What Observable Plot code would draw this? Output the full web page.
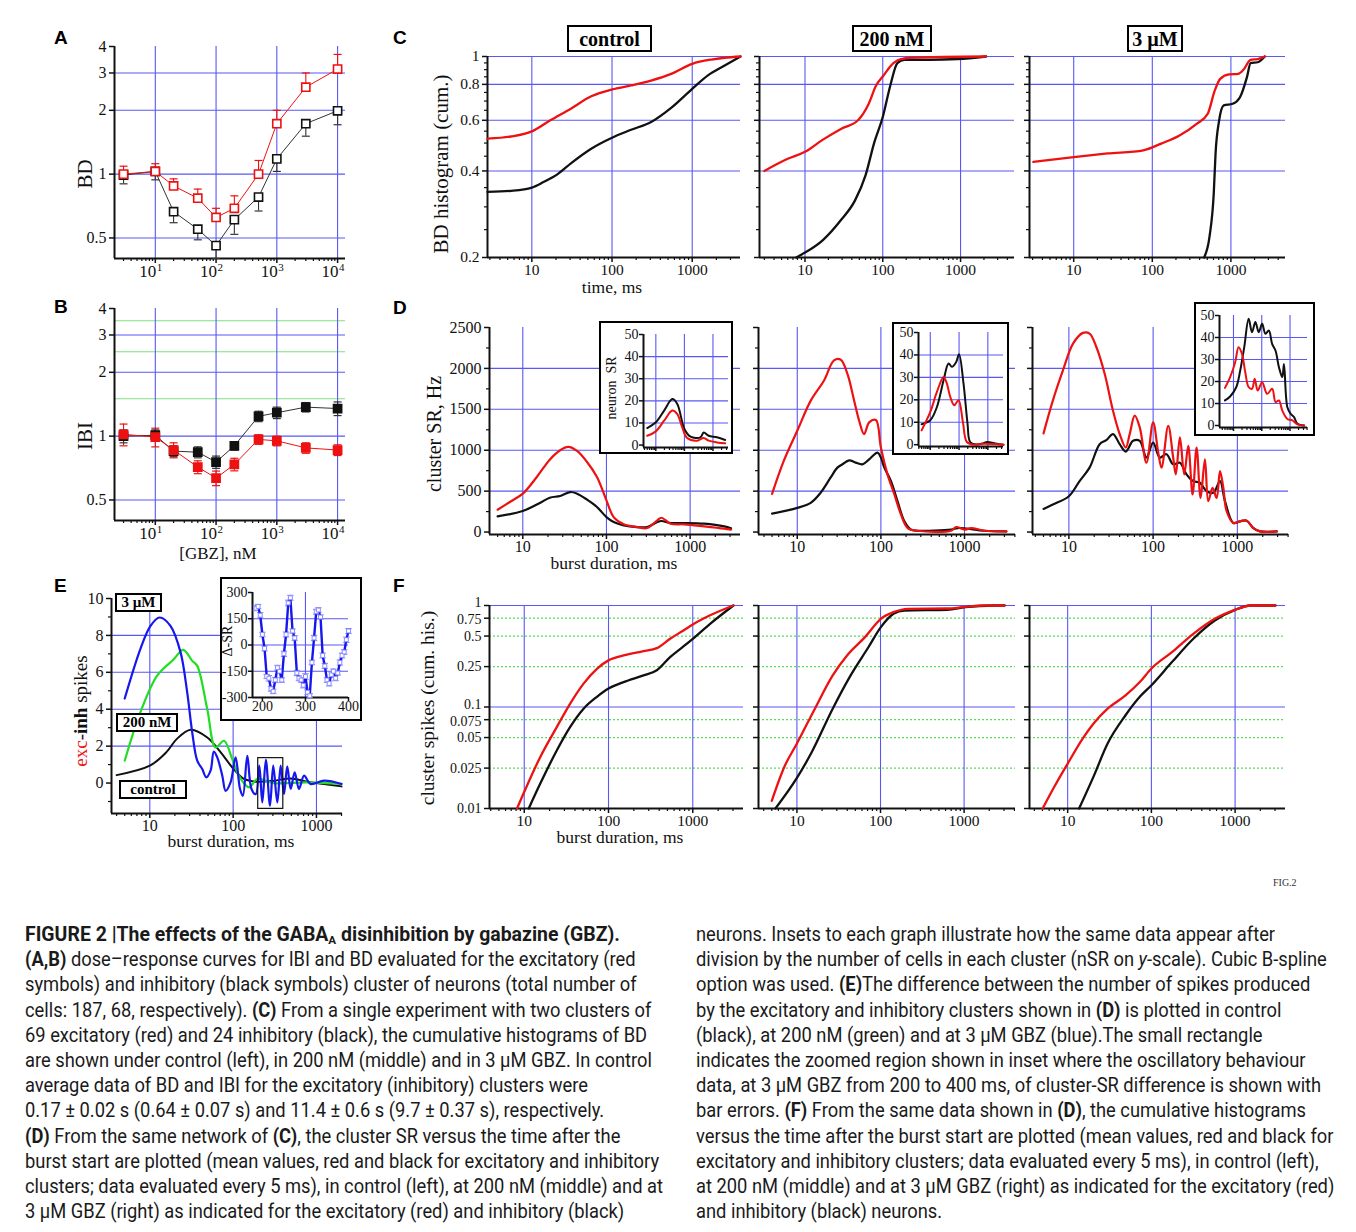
<!DOCTYPE html>
<html><head><meta charset="utf-8">
<script src="https://cdn.jsdelivr.net/npm/d3@7"></script>
<script src="https://cdn.jsdelivr.net/npm/@observablehq/plot@0.6"></script>
<style>
body{margin:0;background:#fff;}
#fig{position:relative;width:1356px;height:1232px;overflow:hidden;background:#fff;font-family:"Liberation Serif",serif;}
.plab{position:absolute;font-family:"Liberation Sans",Arial,sans-serif;font-weight:bold;font-size:19px;line-height:1;}
.alab{position:absolute;white-space:nowrap;font-family:"Liberation Serif",serif;color:#111;line-height:1;}
.box{position:absolute;border:2px solid #000;font-weight:bold;font-family:"Liberation Serif",serif;display:flex;align-items:center;justify-content:center;background:#fff;box-sizing:border-box;line-height:1;}
.inset{position:absolute;border:2px solid #000;background:#fff;box-sizing:border-box;}
.cap{position:absolute;white-space:nowrap;font-family:"Roboto","Liberation Sans",sans-serif;font-size:19.5px;line-height:19px;transform-origin:0 0;color:#1a1a1a;}
.cap b{font-weight:700;}
.fignum{position:absolute;font-family:"Liberation Serif",serif;font-size:10px;color:#333;}
</style></head>
<body><div id="fig"></div>
<script>
// ---------------- DATA ----------------
// A, B: dose-response
const gbzConc = [3, 10, 20, 50, 100, 200, 500, 1000, 3000, 10000];
const gbzTicks = [10, 100, 1000, 10000];
const gbzTickExp = ["1", "2", "3", "4"];
const bdExc = [1.0, 1.03, 0.88, 0.77, 0.625, 0.69, 1.0, 1.73, 2.57, 3.13];
const bdExcErr = [0.09, 0.09, 0.07, 0.08, 0.065, 0.10, 0.16, 0.27, 0.43, 0.54];
const bdInh = [0.99, 1.03, 0.665, 0.55, 0.46, 0.61, 0.78, 1.18, 1.73, 1.99];
const bdInhErr = [0.09, 0.09, 0.075, 0.06, 0.06, 0.09, 0.11, 0.15, 0.22, 0.28];
const ibiExc = [1.02, 0.99, 0.86, 0.715, 0.634, 0.736, 0.965, 0.95, 0.88, 0.86];
const ibiExcErr = [0.12, 0.10, 0.07, 0.05, 0.05, 0.05, 0.05, 0.05, 0.05, 0.05];
const ibiInh = [1.0, 1.01, 0.85, 0.84, 0.755, 0.90, 1.24, 1.29, 1.37, 1.35];
const ibiInhErr = [0.07, 0.06, 0.05, 0.05, 0.05, 0.04, 0.07, 0.08, 0.07, 0.10];
const abYTicks = [0.5, 1, 2, 3, 4];
const abYLabels = ["0.5", "1", "2", "3", "4"];
const abGridY = [0.5, 1, 2, 3];
const bGreenY = [1.5, 2.5, 3.5];

// C: cumulative BD histograms
const cCtrlExcT = [2.8, 5.5, 10, 17, 31, 55, 100, 173, 307, 546, 1000, 1730, 2540, 4000];
const cCtrlExc = [0.518, 0.527, 0.549, 0.60, 0.66, 0.727, 0.768, 0.793, 0.825, 0.87, 0.943, 0.976, 0.99, 1.0];
const cCtrlInhT = [2.8, 5.5, 10, 14, 21, 31, 55, 100, 173, 307, 546, 1000, 1570, 2540, 4000];
const cCtrlInh = [0.338, 0.341, 0.35, 0.366, 0.39, 0.426, 0.478, 0.522, 0.556, 0.592, 0.663, 0.772, 0.86, 0.93, 1.0];
const c200ExcT = [3, 5.9, 10, 17, 29, 48, 66, 82, 100, 137, 171, 234, 2130];
const c200Exc = [0.40, 0.44, 0.466, 0.514, 0.56, 0.60, 0.685, 0.793, 0.852, 0.948, 0.98, 0.99, 1.0];
const c200InhT = [7.7, 10, 17, 29, 44, 60, 78, 100, 125, 154, 190, 396, 918, 2130];
const c200Inh = [0.2, 0.208, 0.23, 0.27, 0.316, 0.386, 0.504, 0.616, 0.793, 0.948, 0.974, 0.974, 0.98, 1.0];
const c3ExcT = [3.06, 10, 27, 77, 130, 219, 370, 507, 624, 731, 949, 1233, 1443, 1780, 2190, 2700];
const c3Exc = [0.43, 0.447, 0.46, 0.472, 0.498, 0.53, 0.584, 0.632, 0.762, 0.836, 0.866, 0.87, 0.899, 0.974, 0.98, 1.0];
const c3InhT = [456, 534, 605, 638, 709, 811, 1054, 1300, 1600, 1780, 2190, 2700];
const c3Inh = [0.2, 0.236, 0.334, 0.46, 0.6, 0.676, 0.685, 0.72, 0.848, 0.948, 0.955, 1.0];
const cYTicks = [0.2, 0.4, 0.6, 0.8, 1];
const cYLabels = ["0.2", "0.4", "0.6", "0.8", "1"];
const cYMinor = [0.25, 0.3, 0.35, 0.45, 0.5, 0.55, 0.65, 0.7, 0.75, 0.85, 0.9, 0.95];
const cGridY = [0.4, 0.6, 0.8, 1];
const msTicks = [10, 100, 1000];
const msLabels = ["10", "100", "1000"];
const minorLog = [3, 4, 5, 6, 7, 8, 9, 20, 30, 40, 50, 60, 70, 80, 90, 200, 300, 400, 500, 600, 700, 800, 900, 2000, 3000, 4000];

// D: cluster spike rate
const dCtrlExcT = [5, 7, 10, 14.7, 21, 28, 35, 44.5, 58.6, 77, 100, 122, 161, 233, 307, 405, 453, 586, 847, 1470, 2560, 3080];
const dCtrlExc = [273, 367, 469, 673, 885, 1000, 1040, 991, 856, 673, 387, 183, 94, 61, 49, 143, 175, 102, 94, 69, 41, 29];
const dCtrlInhT = [5, 10, 16, 21, 28, 37, 44.5, 58.6, 77, 100, 122, 161, 233, 307, 405, 453, 586, 847, 1470, 2560, 3080];
const dCtrlInh = [192, 257, 355, 420, 440, 489, 469, 396, 306, 183, 122, 82, 61, 61, 122, 135, 110, 110, 102, 69, 45];
const d200ExcT = [5, 6.9, 10, 14.5, 20.9, 27.5, 33.1, 39.8, 47.9, 55, 63, 72.4, 87.1, 100, 120, 145, 174, 209, 275, 692, 794, 1000, 1202, 1738, 3162];
const d200Exc = [467, 869, 1238, 1606, 1852, 2098, 2106, 1934, 1606, 1360, 1197, 1340, 1369, 1033, 705, 459, 213, 49, 16, 16, 61, 29, 49, 16, 8];
const d200InhT = [5, 10, 14.5, 19, 25, 30.2, 34.7, 41.7, 50, 60.3, 72.4, 91.2, 100, 110, 132, 158, 191, 229, 275, 692, 832, 1738, 3162];
const d200Inh = [225, 295, 357, 479, 664, 787, 828, 877, 848, 828, 889, 971, 910, 787, 623, 377, 131, 29, 16, 29, 49, 16, 8];
const d3ExcT = [5, 6.45, 8.5, 11.2, 14.7, 17.6, 21.2, 26.6, 33.4, 40.1, 47.3, 52.7, 60.5, 69.4, 83.3, 100, 115, 126, 151, 173, 186, 208, 234, 261, 294, 328, 366, 412, 452, 508, 567, 622, 681, 746, 896, 1076, 1291, 1549, 1860, 2940];
const d3Exc = [1205, 1606, 1975, 2303, 2434, 2426, 2262, 1934, 1483, 1197, 1033, 1197, 1422, 1279, 848, 1340, 971, 787, 1299, 910, 705, 1156, 705, 1053, 459, 1033, 418, 889, 377, 541, 418, 746, 541, 254, 111, 131, 139, 49, 8, 8];
const d3InhT = [5, 6.45, 10, 13.4, 17.6, 23.2, 27.8, 33.4, 40.1, 47.3, 57.8, 69.4, 83.3, 100, 120, 144, 173, 208, 249, 299, 359, 431, 518, 622, 713, 896, 1076, 1291, 1549, 1860, 2940];
const d3Inh = [283, 336, 438, 623, 787, 1074, 1123, 1197, 1074, 984, 1115, 1115, 910, 1094, 910, 951, 828, 848, 705, 623, 602, 500, 479, 623, 377, 111, 131, 139, 49, 8, 8];
const dYTicks = [0, 500, 1000, 1500, 2000, 2500];
const dYLabels = ["0", "500", "1000", "1500", "2000", "2500"];
const dYMinor = [250, 750, 1250, 1750, 2250];
const dGridY = [500, 1000, 1500, 2000];
// D insets: neuron spike rate
const nCtrlInhT = [5, 10, 19.5, 37.8, 56.4, 100, 164, 364, 475, 708, 1377, 2680];
const nCtrlInh = [7.7, 10.3, 15.6, 20.8, 18.6, 7.3, 3.8, 3.5, 5.7, 4.2, 3.5, 2.3];
const nCtrlExcT = [5, 10, 19.5, 37.8, 56.4, 84, 125, 279, 475, 708, 1377, 2680];
const nCtrlExc = [4.2, 6.2, 11, 15.6, 14, 8, 3.2, 2, 3.2, 2, 1.2, 0.8];
const n200InhT = [5, 10, 17, 29, 43.2, 56.4, 79.7, 100, 143, 197, 244, 415, 708, 923, 2050, 3490];
const n200Inh = [9.1, 10.9, 16.8, 28.7, 36.2, 34.7, 36.9, 40.3, 27.2, 9.4, 1.2, 0.1, 0.7, 1.2, 0.4, 0];
const n200ExcT = [5, 10, 17, 29, 37.8, 49.4, 68, 96, 136, 187, 318, 708, 3490];
const n200Exc = [6.4, 14.6, 23.5, 30.2, 27.2, 21.3, 17.6, 19.8, 10.1, 1.2, 0, 0.4, 0];
const n3InhT = [5, 7.6, 12.5, 17.3, 24, 34.4, 45.2, 59.5, 78.2, 103, 135, 178, 234, 308, 405, 532, 611, 804, 1057, 1390, 1828, 3162];
const n3Inh = [11.4, 13.2, 17.4, 25, 35.6, 48.5, 42.4, 47, 42.4, 46.2, 41.7, 43.2, 37, 34, 26.5, 22, 28, 8.3, 5.3, 3.8, 0.8, 0];
const n3ExcT = [5, 7.6, 11.5, 15.1, 19.9, 26.1, 34.4, 45.2, 56.2, 71.9, 103, 155, 234, 308, 405, 532, 804, 1211, 1828, 3162];
const n3Exc = [17.1, 22, 28.8, 35.6, 32.6, 24.2, 17.4, 16.7, 21.2, 15.9, 19.7, 14.4, 16.7, 10.6, 11.4, 6.8, 3, 2.3, 0.5, 0];
const nYTicks = [0, 10, 20, 30, 40, 50];
const nYLabels = ["0", "10", "20", "30", "40", "50"];
const nGridY = [10, 20, 30, 40];

// E: exc - inh spikes
const eCtrlT = [4, 10, 16, 21, 31, 49, 71, 100, 135, 195, 310, 490, 780, 1240, 2000];
const eCtrl = [0.43, 0.94, 1.70, 2.38, 2.89, 2.47, 1.66, 0.79, 0.22, 0.07, 0.13, 0.25, 0.07, -0.05, -0.18];
const e200T = [5, 7.7, 12.2, 19.4, 25.2, 32.3, 37.1, 48.9, 61.6, 77.6, 97.7, 117, 155, 195, 310, 780, 2000];
const e200 = [1.21, 3.83, 5.81, 6.71, 7.22, 6.62, 6.35, 4.01, 1.93, 2.29, 1.30, 0.40, -0.23, 0.22, 0.0, 0.04, -0.05];
const e3T = [5, 7.7, 10.2, 13.1, 17.7, 23.4, 28.1, 32.3, 37.1, 42.6, 47.6, 53.6, 58.7, 64.5, 74.1, 81.2, 93.2, 107, 121, 131, 148, 166, 187, 206, 224, 247, 277, 303, 339, 372, 408, 446, 491, 548, 617, 710, 851, 1237, 2000];
const e3 = [4.58, 7.26, 8.52, 8.97, 8.52, 7.08, 4.91, 2.74, 1.21, 0.76, 0.31, 0.67, 1.70, 1.39, 0.40, -0.42, 0.04, 1.39, -0.32, -0.69, 1.48, -0.32, -0.60, 0.94, -1.05, 1.26, -1.23, 0.94, -1.05, 0.94, -0.60, 0.90, -0.32, 0.58, -0.32, 0.40, -0.05, 0.13, -0.05];
const eYTicks = [0, 2, 4, 6, 8, 10];
const eYLabels = ["0", "2", "4", "6", "8", "10"];
const eYMinor = [-1, 1, 3, 5, 7, 9];
const eGridY = [2, 4, 6, 8];
const eZoomT = [200, 400];
const eZoomV = [-1.4, 1.35];
// E inset: delta-SR with error bars
const eInsetT = [185, 190, 195, 200, 205, 210, 215, 220, 225, 230, 235, 240, 245, 250, 255, 260, 265, 270, 275, 280, 285, 290, 295, 300, 305, 310, 315, 320, 325, 330, 335, 340, 345, 350, 355, 360, 365, 370, 375, 380, 385, 390, 395, 400];
const eInsetV = [210, 220, 170, 60, -20, -180, -190, -250, -265, -200, -130, -150, -200, -50, 60, 240, 270, 80, 40, -160, -190, -200, -230, -180, -270, -290, -100, 40, 190, 200, 160, -60, -120, -200, -220, -170, -150, -190, -160, -100, -60, -40, 30, 80];
const eInsetErr = [14, 12, 15, 13, 14, 12, 16, 14, 13, 15, 14, 12, 13, 15, 14, 16, 14, 12, 13, 15, 14, 13, 15, 16, 14, 12, 13, 15, 14, 13, 12, 14, 15, 13, 14, 16, 13, 14, 12, 15, 14, 13, 15, 14];
const eInsetYTicks = [-300, -150, 0, 150, 300];
const eInsetYLabels = ["-300", "-150", "0", "150", "300"];
const eInsetXTicks = [200, 300, 400];
const eInsetXLabels = ["200", "300", "400"];

// F: cumulative spikes
const fCtrlExcT = [8.2, 10, 15.5, 24.4, 35.1, 50.6, 72.8, 100, 151, 260, 374, 538, 775, 1000, 1606, 3035];
const fCtrlExc = [0.01, 0.0146, 0.0322, 0.0637, 0.108, 0.17, 0.238, 0.288, 0.322, 0.355, 0.38, 0.47, 0.568, 0.65, 0.80, 1.0];
const fCtrlInhT = [11.3, 15.5, 24.4, 35.1, 50.6, 72.8, 100, 151, 260, 374, 538, 775, 1000, 1606, 3035];
const fCtrlInh = [0.01, 0.0176, 0.0375, 0.0637, 0.0963, 0.126, 0.152, 0.176, 0.205, 0.23, 0.31, 0.395, 0.47, 0.66, 1.0];
const f200ExcT = [5, 7.08, 10, 16.4, 26.8, 39.8, 65.2, 101, 143, 213, 629, 1030, 1687, 3050];
const f200Exc = [0.0119, 0.0258, 0.0437, 0.0963, 0.205, 0.322, 0.488, 0.74, 0.86, 0.927, 0.934, 0.97, 1.0, 1.0];
const f200InhT = [5.53, 10, 14.8, 26.8, 43.9, 71.9, 101, 143, 193, 629, 1030, 2265, 3050];
const f200Inh = [0.01, 0.02, 0.035, 0.0963, 0.205, 0.39, 0.612, 0.828, 0.893, 0.906, 0.963, 1.0, 1.0];
const f3ExcT = [5.02, 6.9, 10, 15.1, 20.3, 30, 49.1, 72.7, 99.5, 176, 317, 572, 1000, 1525, 3030];
const f3Exc = [0.01, 0.0163, 0.0277, 0.0489, 0.0685, 0.0963, 0.13, 0.176, 0.238, 0.347, 0.526, 0.74, 0.906, 1.0, 1.0];
const f3InhT = [13.7, 20.3, 30, 49.1, 72.7, 99.5, 176, 317, 572, 1000, 1525, 3030];
const f3Inh = [0.01, 0.0205, 0.0437, 0.083, 0.126, 0.163, 0.277, 0.47, 0.712, 0.906, 1.0, 1.0];
const fYTicks = [0.01, 0.025, 0.05, 0.075, 0.1, 0.25, 0.5, 0.75, 1];
const fYLabels = ["0.01", "0.025", "0.05", "0.075", "0.1", "0.25", "0.5", "0.75", "1"];
const fGridBlue = [0.1, 1];
const fGridGreen = [0.025, 0.05, 0.075, 0.25, 0.5, 0.75];

// ---------------- DRAWING ----------------
const fig = document.getElementById("fig");
const RED = "#ee1111", BLK = "#111111", BLUE = "#5858f4", GRN = "#22dd22", EBLUE = "#1616ee";
const pts = (xs, ys) => xs.map((x, i) => ({x, y: ys[i]}));
const within = (arr, dom) => arr.filter(v => v > dom[0] && v < dom[1]);
const capSym = {draw(ctx, size) { const r = Math.sqrt(size / Math.PI); ctx.moveTo(-r, 0); ctx.lineTo(r, 0); }};
// label nudges (pixels) for tightly packed log tick labels in panel F
const fLabelNudge = new Map([[1, -2.5], [0.75, 1.5], [0.1, -2.5], [0.075, 1.5]]);

function axisMarks(o) {
  const m = [];
  const fs = o.fs ?? 15;
  const ts = o.ts ?? 5;
  m.push(Plot.axisX({ticks: o.xTicks, tickSize: ts, tickPadding: o.xPad ?? 2, fontSize: fs, strokeWidth: 1.5,
    tickFormat: o.xLabels ? (d => o.xLabels[o.xTicks.indexOf(d)]) : (() => ""), label: null}));
  if (o.xMinor && o.xMinor.length) m.push(Plot.axisX({ticks: o.xMinor, tickSize: 3, strokeWidth: 1.2, tickFormat: () => "", label: null}));
  m.push(Plot.axisY({ticks: o.yTicks, tickSize: ts, tickPadding: o.yPad ?? 3, fontSize: fs, strokeWidth: 1.5,
    tickFormat: () => "", label: null}));
  if (o.yLabels) {
    const groups = d3.group(o.yTicks, v => (o.yNudge && o.yNudge.get(v)) || 0);
    for (const [dy, vals] of groups) {
      m.push(Plot.text(vals, {y: d => d, frameAnchor: "left", dx: -(ts + (o.yPad ?? 3)), dy, textAnchor: "end",
        text: d => o.yLabels[o.yTicks.indexOf(d)], fontSize: o.yfs ?? fs}));
    }
  }
  if (o.yMinor && o.yMinor.length) m.push(Plot.axisY({ticks: o.yMinor, tickSize: 3, strokeWidth: 1.2, tickFormat: () => "", label: null}));
  m.push(Plot.ruleX([o.xDom[0]], {stroke: BLK, strokeWidth: 2}));
  m.push(Plot.ruleY([o.yDom[0]], {stroke: BLK, strokeWidth: 2}));
  return m;
}

function panel(o) {
  const mL = o.mL ?? 50, mR = o.mR ?? 6, mT = o.mT ?? 8, mB = o.mB ?? 30;
  const w = o.right - o.left, h = o.bottom - o.top;
  const p = Plot.plot({
    width: w + mL + mR, height: h + mT + mB,
    marginLeft: mL, marginRight: mR, marginTop: mT, marginBottom: mB,
    x: {type: o.xType || "log", domain: o.xDom},
    y: {type: o.yType || "linear", domain: o.yDom},
    style: {fontFamily: "'Liberation Serif', serif", fontSize: "15px", background: "transparent", overflow: "visible", color: "#111"},
    marks: o.marks
  });
  p.style.position = "absolute";
  p.style.left = (o.left - mL) + "px";
  p.style.top = (o.top - mT) + "px";
  p.style.maxWidth = "none";
  fig.appendChild(p);
  return p;
}

function div(cls, html, css) {
  const d = document.createElement("div");
  d.className = cls;
  d.innerHTML = html;
  Object.assign(d.style, css);
  fig.appendChild(d);
  return d;
}
function label(html, x, y, size, rot) {
  return div("alab", html, {left: x + "px", top: y + "px", fontSize: size + "px",
    transform: rot ? "translate(-50%,-50%) rotate(-90deg)" : "translate(-50%,-50%)"});
}
function box(html, l, t, w, h, fs) {
  return div("box", html, {left: l + "px", top: t + "px", width: w + "px", height: h + "px", fontSize: fs + "px"});
}
function insetBox(l, t, r, b) {
  return div("inset", "", {left: l + "px", top: t + "px", width: (r - l) + "px", height: (b - t) + "px"});
}
const grid = (xs, ys, color) => [
  Plot.ruleX(xs, {stroke: color || BLUE, strokeWidth: 1.1}),
  Plot.ruleY(ys, {stroke: color || BLUE, strokeWidth: 1.1})
];

// ---------- Panel A ----------
const abXDom = [2.13, 13500], abYDom = [0.4, 4];
const abMinor = within(minorLog.concat([5000, 6000, 7000, 8000, 9000]), abXDom);
function doseMarks(exc, excErr, inh, inhErr, filled, symmetric) {
  const red = gbzConc.map((x, i) => ({x, y: exc[i], lo: symmetric ? exc[i] - excErr[i] : exc[i], hi: exc[i] + excErr[i]}));
  const blk = gbzConc.map((x, i) => ({x, y: inh[i], lo: inh[i] - inhErr[i], hi: symmetric ? inh[i] + inhErr[i] : inh[i]}));
  const m = [];
  m.push(Plot.ruleX(red, {x: "x", y1: "lo", y2: "hi", stroke: RED, strokeWidth: 1.1}));
  m.push(Plot.ruleX(blk, {x: "x", y1: "lo", y2: "hi", stroke: "#333", strokeWidth: 1.1}));
  m.push(Plot.dot(red, {x: "x", y: "hi", symbol: capSym, r: 4, stroke: RED, fill: "none", strokeWidth: 1.2}));
  m.push(Plot.dot(blk, {x: "x", y: "lo", symbol: capSym, r: 4, stroke: "#333", fill: "none", strokeWidth: 1.2}));
  if (symmetric) {
    m.push(Plot.dot(red, {x: "x", y: "lo", symbol: capSym, r: 4, stroke: RED, fill: "none", strokeWidth: 1.2}));
    m.push(Plot.dot(blk, {x: "x", y: "hi", symbol: capSym, r: 4, stroke: "#333", fill: "none", strokeWidth: 1.2}));
  }
  m.push(Plot.line(blk, {x: "x", y: "y", stroke: "#333", strokeWidth: 1}));
  m.push(Plot.line(red, {x: "x", y: "y", stroke: RED, strokeWidth: 1}));
  m.push(Plot.dot(blk, {x: "x", y: "y", symbol: "square", r: 4.6, stroke: BLK, strokeWidth: 1.6, fill: filled ? BLK : "white"}));
  m.push(Plot.dot(red, {x: "x", y: "y", symbol: "square", r: 4.6, stroke: RED, strokeWidth: 1.6, fill: filled ? RED : "white"}));
  return m;
}
function expTicks() {
  return [
    Plot.text(gbzTicks, {x: d => d, frameAnchor: "bottom", dy: 18, dx: 1, text: d => "10", textAnchor: "end", fontSize: 17}),
    Plot.text(gbzTicks, {x: d => d, frameAnchor: "bottom", dy: 12, dx: 1.5, text: d => gbzTickExp[gbzTicks.indexOf(d)], textAnchor: "start", fontSize: 11})
  ];
}
panel({left: 114, right: 345, top: 46, bottom: 258, xDom: abXDom, yType: "log", yDom: abYDom, mL: 40, mB: 34,
  marks: [
    ...grid(gbzTicks, abGridY),
    ...axisMarks({xDom: abXDom, yDom: abYDom, xTicks: gbzTicks, xMinor: abMinor, yTicks: abYTicks, yLabels: abYLabels, fs: 16}),
    ...expTicks(),
    ...doseMarks(bdExc, bdExcErr, bdInh, bdInhErr, false, false)
  ]});

// ---------- Panel B ----------
panel({left: 114, right: 345, top: 308, bottom: 520, xDom: abXDom, yType: "log", yDom: abYDom, mL: 40, mB: 34,
  marks: [
    Plot.ruleY(bGreenY, {stroke: "#7fe07f", strokeWidth: 1.1}),
    ...grid(gbzTicks, abGridY),
    ...axisMarks({xDom: abXDom, yDom: abYDom, xTicks: gbzTicks, xMinor: abMinor, yTicks: abYTicks, yLabels: abYLabels, fs: 16}),
    ...expTicks(),
    ...doseMarks(ibiExc, ibiExcErr, ibiInh, ibiInhErr, true, true)
  ]});

// ---------- Panel C / F (cumulative) ----------
function cumPanel(o) {
  return panel({left: o.left, right: o.right, top: o.top, bottom: o.bottom, xDom: o.xDom, yType: "log", yDom: o.yDom, mL: o.mL, mB: 28,
    marks: [
      ...(o.green ? [Plot.ruleY(o.green, {stroke: "#55dd55", strokeWidth: 1.2, strokeDasharray: "2,2"})] : []),
      ...grid(msTicks, o.gridY),
      ...axisMarks({xDom: o.xDom, yDom: o.yDom, xTicks: msTicks, xLabels: msLabels, xMinor: within(minorLog, o.xDom),
        yTicks: o.yTicks, yLabels: o.showY ? o.yLabels : null, yMinor: o.yMinor, fs: 15.5, yfs: o.yfs, yNudge: o.yNudge, xPad: 1}),
      Plot.line(pts(o.bx, o.by), {x: "x", y: "y", stroke: BLK, strokeWidth: 2.3, curve: "monotone-x"}),
      Plot.line(pts(o.rx, o.ry), {x: "x", y: "y", stroke: RED, strokeWidth: 2.3, curve: "monotone-x"})
    ]});
}
const cYDom = [0.2, 1];
cumPanel({left: 487, right: 740, top: 56, bottom: 257, xDom: [2.8, 4000], yDom: cYDom, mL: 42, gridY: cGridY, yTicks: cYTicks, yLabels: cYLabels, yMinor: cYMinor, showY: true,
  rx: cCtrlExcT, ry: cCtrlExc, bx: cCtrlInhT, by: cCtrlInh});
cumPanel({left: 759, right: 1014, top: 56, bottom: 257, xDom: [2.6, 4940], yDom: cYDom, mL: 10, gridY: cGridY, yTicks: cYTicks, yMinor: cYMinor, showY: false,
  rx: c200ExcT, ry: c200Exc, bx: c200InhT, by: c200Inh});
cumPanel({left: 1029, right: 1285, top: 56, bottom: 257, xDom: [2.74, 4950], yDom: cYDom, mL: 10, gridY: cGridY, yTicks: cYTicks, yMinor: cYMinor, showY: false,
  rx: c3ExcT, ry: c3Exc, bx: c3InhT, by: c3Inh});

// ---------- Panel D ----------
const dYDom = [-30, 2500];
function srPanel(o) {
  return panel({left: o.left, right: o.right, top: 327, bottom: 534, xDom: o.xDom, yDom: dYDom, mL: o.mL, mB: 28,
    marks: [
      ...grid(msTicks, dGridY),
      ...axisMarks({xDom: o.xDom, yDom: dYDom, xTicks: msTicks, xLabels: msLabels, xMinor: within(minorLog, o.xDom),
        yTicks: dYTicks, yLabels: o.showY ? dYLabels : null, yMinor: dYMinor, fs: 16, xPad: 1}),
      Plot.line(pts(o.bx, o.by), {x: "x", y: "y", stroke: BLK, strokeWidth: 2.2, curve: "catmull-rom"}),
      Plot.line(pts(o.rx, o.ry), {x: "x", y: "y", stroke: RED, strokeWidth: 2.2, curve: "catmull-rom"})
    ]});
}
function nsrInset(o) {
  insetBox(o.box[0], o.box[1], o.box[2], o.box[3]);
  return panel({left: o.left, right: o.right, top: o.top, bottom: o.bottom, xDom: o.xDom, yDom: o.yDom, mL: 26, mB: 6, mT: 8, mR: 4,
    marks: [
      ...grid(msTicks, nGridY),
      ...axisMarks({xDom: o.xDom, yDom: o.yDom, xTicks: msTicks, xMinor: within(minorLog, o.xDom),
        yTicks: nYTicks, yLabels: nYLabels, fs: 14, ts: 4, yPad: 1}),
      Plot.line(pts(o.bx, o.by), {x: "x", y: "y", stroke: BLK, strokeWidth: 2, curve: "catmull-rom"}),
      Plot.line(pts(o.rx, o.ry), {x: "x", y: "y", stroke: RED, strokeWidth: 2, curve: "catmull-rom"})
    ]});
}
srPanel({left: 489, right: 740, xDom: [4, 4000], mL: 46, showY: true, rx: dCtrlExcT, ry: dCtrlExc, bx: dCtrlInhT, by: dCtrlInh});
nsrInset({box: [599, 321, 733, 454], left: 643, right: 728, top: 334, bottom: 447, xDom: [3.7, 3500], yDom: [-1.1, 50],
  rx: nCtrlExcT, ry: nCtrlExc, bx: nCtrlInhT, by: nCtrlInh});
srPanel({left: 758, right: 1015, xDom: [3.44, 4070], mL: 10, showY: false, rx: d200ExcT, ry: d200Exc, bx: d200InhT, by: d200Inh});
nsrInset({box: [892, 322, 1009, 455], left: 918, right: 1003, top: 332, bottom: 446, xDom: [3.9, 3500], yDom: [-0.8, 50],
  rx: n200ExcT, ry: n200Exc, bx: n200InhT, by: n200Inh});
srPanel({left: 1032, right: 1288, xDom: [3.7, 4045], mL: 10, showY: false, rx: d3ExcT, ry: d3Exc, bx: d3InhT, by: d3Inh});
nsrInset({box: [1194, 302, 1315, 436], left: 1219, right: 1307, top: 315, bottom: 427, xDom: [3.2, 4150], yDom: [-0.9, 50],
  rx: n3ExcT, ry: n3Exc, bx: n3InhT, by: n3Inh});

// ---------- Panel E ----------
const eXDom = [3.47, 2054], eYDom = [-1.65, 10];
panel({left: 111, right: 342, top: 598, bottom: 813, xDom: eXDom, yDom: eYDom, mL: 36, mB: 28,
  marks: [
    ...grid(msTicks, eGridY),
    ...axisMarks({xDom: eXDom, yDom: eYDom, xTicks: msTicks, xLabels: msLabels, xMinor: within(minorLog, eXDom),
      yTicks: eYTicks, yLabels: eYLabels, yMinor: eYMinor, fs: 16, xPad: 1}),
    Plot.line(pts(eCtrlT, eCtrl), {x: "x", y: "y", stroke: BLK, strokeWidth: 2, curve: "catmull-rom"}),
    Plot.line(pts(e200T, e200), {x: "x", y: "y", stroke: GRN, strokeWidth: 2.2, curve: "catmull-rom"}),
    Plot.line(pts(e3T, e3), {x: "x", y: "y", stroke: EBLUE, strokeWidth: 2.2, curve: "catmull-rom"}),
    Plot.rect([{x1: eZoomT[0], x2: eZoomT[1], y1: eZoomV[0], y2: eZoomV[1]}], {x1: "x1", x2: "x2", y1: "y1", y2: "y2", fill: "none", stroke: BLK, strokeWidth: 1.2})
  ]});
insetBox(220, 577, 362, 721);
const eIXDom = [177, 400], eIYDom = [-300, 300];
const eInsetData = eInsetT.map((t, i) => ({x: t, y: eInsetV[i], lo: eInsetV[i] - eInsetErr[i], hi: eInsetV[i] + eInsetErr[i]}));
panel({left: 252, right: 348, top: 592, bottom: 697, xType: "linear", xDom: eIXDom, yDom: eIYDom, mL: 32, mB: 20, mT: 10, mR: 8,
  marks: [
    ...grid([300], [-150, 0, 150]),
    ...axisMarks({xDom: eIXDom, yDom: eIYDom, xTicks: eInsetXTicks, xLabels: eInsetXLabels, yTicks: eInsetYTicks, yLabels: eInsetYLabels, fs: 14, ts: 4, xPad: 0, yPad: 1}),
    Plot.ruleX(eInsetData, {x: "x", y1: "lo", y2: "hi", stroke: "#8080ff", strokeWidth: 1}),
    Plot.dot(eInsetData, {x: "x", y: "lo", symbol: capSym, r: 3.2, stroke: "#8080ff", fill: "none", strokeWidth: 1}),
    Plot.dot(eInsetData, {x: "x", y: "hi", symbol: capSym, r: 3.2, stroke: "#8080ff", fill: "none", strokeWidth: 1}),
    Plot.line(eInsetData, {x: "x", y: "y", stroke: EBLUE, strokeWidth: 2.4}),
    Plot.dot(eInsetData, {x: "x", y: "y", symbol: "square", r: 2.2, stroke: "#8c8cff", fill: "white", strokeWidth: 1})
  ]});

// ---------- Panel F ----------
const fYDom = [0.01, 1];
cumPanel({left: 489, right: 743, top: 605, bottom: 808, xDom: [3.87, 4000], yDom: fYDom, mL: 50, gridY: fGridBlue, green: fGridGreen, yTicks: fYTicks, yLabels: fYLabels, yfs: 14, yNudge: fLabelNudge, showY: true,
  rx: fCtrlExcT, ry: fCtrlExc, bx: fCtrlInhT, by: fCtrlInh});
cumPanel({left: 758, right: 1015, top: 605, bottom: 808, xDom: [3.47, 4120], yDom: fYDom, mL: 10, gridY: fGridBlue, green: fGridGreen, yTicks: fYTicks, showY: false,
  rx: f200ExcT, ry: f200Exc, bx: f200InhT, by: f200Inh});
cumPanel({left: 1029, right: 1285, top: 605, bottom: 808, xDom: [3.5, 4000], yDom: fYDom, mL: 10, gridY: fGridBlue, green: fGridGreen, yTicks: fYTicks, showY: false,
  rx: f3ExcT, ry: f3Exc, bx: f3InhT, by: f3Inh});

// ---------- Text: panel letters, axis titles, boxes ----------
div("plab", "A", {left: "54px", top: "28px"});
div("plab", "B", {left: "54px", top: "297px"});
div("plab", "C", {left: "393px", top: "28px"});
div("plab", "D", {left: "393px", top: "298px"});
div("plab", "E", {left: "54px", top: "576px"});
div("plab", "F", {left: "393px", top: "576px"});

label("BD", 85, 174, 21, true);
label("IBI", 85, 436, 21, true);
label("[GBZ], nM", 218, 553, 17, false);
label("BD histogram (cum.)", 441, 164, 21, true);
label("time, ms", 612, 288, 17.5, false);
label("cluster SR, Hz", 434, 434, 20, true);
label("burst duration, ms", 614, 564, 17.5, false);
label("neuron&nbsp;&nbsp;SR", 612, 388, 14, true);
label("cluster spikes (cum. his.)", 428, 708, 19.5, true);
label("burst duration, ms", 620, 838, 17.5, false);
label("<span style='color:#ee1111'>exc</span>-<b>inh</b> spikes", 80, 711, 19, true);
label("burst duration, ms", 231, 842, 17.5, false);
label("&Delta;-SR", 228, 641, 14, true);

box("control", 567, 25, 85, 27, 20);
box("200 nM", 852, 25, 80, 27, 20);
box("3 &micro;M", 1127, 25, 56, 27, 20);
box("3 &micro;M", 115, 593, 47, 19, 15);
box("200 nM", 116, 713, 62, 19, 15);
box("control", 119, 780, 68, 19, 15);

div("fignum", "FIG.2", {left: "1273px", top: "877px"});

// ---------- Caption ----------
const captionLeft = [
  "<b>FIGURE 2 |The effects of the GABA<sub style='font-size:60%;vertical-align:-3px'>A</sub> disinhibition by gabazine (GBZ).</b>",
  "<b>(A,B)</b> dose&ndash;response curves for IBI and BD evaluated for the excitatory (red",
  "symbols) and inhibitory (black symbols) cluster of neurons (total number of",
  "cells: 187, 68, respectively). <b>(C)</b> From a single experiment with two clusters of",
  "69 excitatory (red) and 24 inhibitory (black), the cumulative histograms of BD",
  "are shown under control (left), in 200 nM (middle) and in 3 &micro;M GBZ. In control",
  "average data of BD and IBI for the excitatory (inhibitory) clusters were",
  "0.17 &plusmn; 0.02 s (0.64 &plusmn; 0.07 s) and 11.4 &plusmn; 0.6 s (9.7 &plusmn; 0.37 s), respectively.",
  "<b>(D)</b> From the same network of <b>(C)</b>, the cluster SR versus the time after the",
  "burst start are plotted (mean values, red and black for excitatory and inhibitory",
  "clusters; data evaluated every 5 ms), in control (left), at 200 nM (middle) and at",
  "3 &micro;M GBZ (right) as indicated for the excitatory (red) and inhibitory (black)"
];
const captionRight = [
  "neurons. Insets to each graph illustrate how the same data appear after",
  "division by the number of cells in each cluster (nSR on <i>y</i>-scale). Cubic B-spline",
  "option was used. <b>(E)</b>The difference between the number of spikes produced",
  "by the excitatory and inhibitory clusters shown in <b>(D)</b> is plotted in control",
  "(black), at 200 nM (green) and at 3 &micro;M GBZ (blue).The small rectangle",
  "indicates the zoomed region shown in inset where the oscillatory behaviour",
  "data, at 3 &micro;M GBZ from 200 to 400 ms, of cluster-SR difference is shown with",
  "bar errors. <b>(F)</b> From the same data shown in <b>(D)</b>, the cumulative histograms",
  "versus the time after the burst start are plotted (mean values, red and black for",
  "excitatory and inhibitory clusters; data evaluated every 5 ms), in control (left),",
  "at 200 nM (middle) and at 3 &micro;M GBZ (right) as indicated for the excitatory (red)",
  "and inhibitory (black) neurons."
];
const capDivs = [];
captionLeft.forEach((h, i) => capDivs.push(div("cap", h, {left: "25px", top: (925 + 25.2 * i) + "px"})));
captionRight.forEach((h, i) => capDivs.push(div("cap", h, {left: "696px", top: (925 + 25.2 * i) + "px"})));
const refW = capDivs[10].getBoundingClientRect().width;
const k = 638 / refW;
capDivs.forEach(d => d.style.transform = "scaleX(" + k.toFixed(4) + ")");
const titleW = capDivs[0].getBoundingClientRect().width;
capDivs[0].style.transform = "scaleX(" + (k * 595 / titleW).toFixed(4) + ")";
</script>
</body></html>
